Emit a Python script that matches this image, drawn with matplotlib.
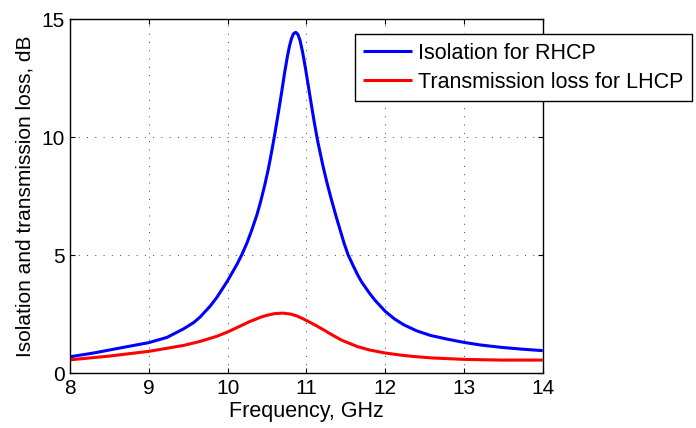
import matplotlib
matplotlib.use("Agg")
import matplotlib.pyplot as plt

# Data
freq_rhcp = [8.00, 8.30, 8.60, 9.00, 9.23, 9.44, 9.57, 9.65, 9.78, 9.865, 10.00,
             10.12, 10.18, 10.246, 10.305, 10.373, 10.42, 10.47, 10.517, 10.56,
             10.60, 10.645, 10.686, 10.72, 10.758, 10.785, 10.81, 10.835, 10.864,
             10.893, 10.919, 10.953, 10.99, 11.025, 11.065, 11.10, 11.143, 11.21,
             11.26, 11.31, 11.38, 11.43, 11.48, 11.53, 11.60, 11.65, 11.70, 11.80,
             11.87, 12.00, 12.12, 12.24, 12.40, 12.58, 12.80, 13.00, 13.21, 13.47,
             13.75, 14.00]
isolation_rhcp = [0.70, 0.86, 1.05, 1.30, 1.52, 1.88, 2.15, 2.38, 2.85, 3.22, 3.92,
                  4.62, 5.02, 5.52, 6.05, 6.72, 7.28, 7.95, 8.65, 9.40,
                  10.15, 11.05, 11.90, 12.65, 13.40, 13.85, 14.17, 14.38, 14.45,
                  14.36, 14.12, 13.60, 12.90, 12.18, 11.35, 10.65, 9.85, 8.80,
                  8.10, 7.46, 6.62, 6.06, 5.50, 5.02, 4.52, 4.18, 3.88, 3.40,
                  3.10, 2.63, 2.30, 2.05, 1.80, 1.60, 1.44, 1.31, 1.20, 1.10,
                  1.02, 0.96]

freq_lhcp = [8.0, 8.5, 9.0, 9.44, 9.65, 9.865, 10.0, 10.14, 10.28, 10.415, 10.49,
             10.60, 10.70, 10.80, 10.88, 10.94, 11.0, 11.13, 11.22, 11.31, 11.45,
             11.65, 11.80, 12.0, 12.2, 12.37, 12.6, 13.0, 13.47, 14.0]
loss_lhcp = [0.57, 0.73, 0.93, 1.18, 1.35, 1.57, 1.75, 1.97, 2.19, 2.37, 2.45,
             2.53, 2.55, 2.51, 2.43, 2.34, 2.24, 2.01, 1.84, 1.66, 1.40,
             1.13, 0.99, 0.86, 0.77, 0.71, 0.65, 0.59, 0.56, 0.56]

labels = ["Isolation for RHCP", "Transmission loss for LHCP"]
x_ticks = [8, 9, 10, 11, 12, 13, 14]
y_ticks = [0, 5, 10, 15]

plt.rcParams['font.family'] = ['Liberation Sans', 'DejaVu Sans']

fig = plt.figure(figsize=(6.96, 4.28), dpi=100)
W, H = 696, 428
ax = fig.add_axes([70 / W, 1 - 373.3 / H, (542.7 - 70) / W, (373.3 - 19.3) / H])

l1, = ax.plot(freq_rhcp, isolation_rhcp, color='#0000ff', lw=2.2,
              solid_joinstyle='round', solid_capstyle='butt')
l2, = ax.plot(freq_lhcp, loss_lhcp, color='#ff0000', lw=2.2,
              solid_joinstyle='round', solid_capstyle='butt')

ax.set_xlim(8, 14)
ax.set_ylim(0, 15)
ax.set_xticks(x_ticks)
ax.set_yticks(y_ticks)
ax.tick_params(direction='in', top=True, right=True, length=3.6, width=0.8,
               labelsize=15, pad=4, colors='black')
for s in ax.spines.values():
    s.set_linewidth(1.0)
ax.grid(True, color='0.25', linewidth=0.7, linestyle=(0, (1, 7.5)))

ax.set_xlabel("Frequency, GHz", fontsize=15.5, labelpad=2)
ax.set_ylabel("Isolation and transmission loss, dB", fontsize=15, labelpad=5)

leg = fig.legend([l1, l2], labels, loc='upper left',
                 bbox_to_anchor=(354.7 / W, 1 - 34 / H), bbox_transform=fig.transFigure,
                 borderaxespad=0, fontsize=15.5, handlelength=2.25, handletextpad=0.3,
                 borderpad=0.4, labelspacing=0.38, fancybox=False, framealpha=1,
                 edgecolor='black')
leg.get_frame().set_linewidth(1.0)

fig.savefig("out.png", dpi=100)
